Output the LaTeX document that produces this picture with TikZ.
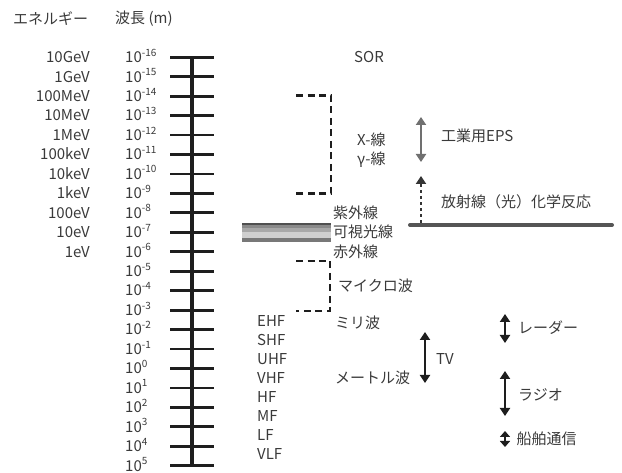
\documentclass[tikz,border=0pt]{standalone}
\usepackage{fontspec}
\setmainfont{Noto Sans CJK JP}
\usetikzlibrary{arrows.meta}
\definecolor{txt}{HTML}{3A3A3A}
\definecolor{axisc}{HTML}{1E1E1E}
\definecolor{bandA}{HTML}{505050}
\definecolor{bandB}{HTML}{8A8A8A}
\definecolor{bandC}{HTML}{A8A8A8}
\definecolor{bandD}{HTML}{CFCFCF}
\definecolor{bandE}{HTML}{787878}
\definecolor{epsc}{HTML}{707070}
\definecolor{linec}{HTML}{555555}
\newcommand\pwr[1]{10\raisebox{6.3pt}{\fontsize{10}{10}\selectfont #1}}
\begin{document}
\begin{tikzpicture}[x=1pt,y=-1pt,
  lbl/.style={font=\fontsize{15}{16}\selectfont, text=txt, inner sep=0pt},
  tickline/.style={draw=axisc, line width=2.8pt},
  axisline/.style={draw=axisc, line width=3.2pt},
  bracket/.style={draw=axisc, line width=2.5pt, dash pattern=on 7pt off 4.5pt},
  dblarrow/.style={draw=axisc, line width=2.5pt, {Triangle[width=10pt,length=8pt]}-{Triangle[width=10pt,length=8pt]}},
  smallarrow/.style={draw=axisc, line width=2.5pt, {Triangle[width=10pt,length=6pt]}-{Triangle[width=10pt,length=6pt]}},
]
\useasboundingbox (0,0) rectangle (622,473);

% headers
\node[lbl, anchor=west] (hE) at (13,19) {エネルギー};
\node[lbl, anchor=west] (hW) at (115,19) {波長 (m)};

% axis
\coordinate (axTop) at (192,57.3);
\coordinate (axBot) at (192,465.8);
\draw[axisline] (axTop) -- (axBot);
\foreach \k in {0,...,21}{
  \pgfmathsetmacro\yy{57.3+19.45*\k}
  \coordinate (t\k) at (192,\yy);
  \draw[tickline] ([xshift=-22pt]t\k) -- ([xshift=22pt]t\k);
}

% wavelength labels
\foreach \e [count=\c from 0] in {-16,-15,-14,-13,-12,-11,-10,-9,-8,-7,-6,-5,-4,-3,-2,-1,0,1,2,3,4,5}{
  \pgfmathsetmacro\yy{57.3+19.45*\c+5.3}
  \node[lbl, anchor=base west] (w\c) at (125,\yy) {\pwr{\e}};
}

% energy labels
\foreach \lab [count=\c from 0] in {10GeV,1GeV,100MeV,10MeV,1MeV,100keV,10keV,1keV,100eV,10eV,1eV}{
  \pgfmathsetmacro\yy{57.3+19.45*\c+5.3}
  \node[lbl, anchor=base east] (en\c) at (90,\yy) {\lab};
}

% brackets
\coordinate (b1a) at (296,95.5);
\coordinate (b1b) at (331,95.5);
\coordinate (b1c) at (331,193.5);
\coordinate (b1d) at (296,193.5);
\draw[bracket] (b1a) -- (b1b) -- (b1c) -- (b1d);
\coordinate (b2a) at (296,261);
\coordinate (b2b) at (330,261);
\coordinate (b2c) at (330,311);
\coordinate (b2d) at (296,311);
\draw[bracket] (b2a) -- (b2b) -- (b2c) -- (b2d);

% spectrum band
\fill[bandA] (242,223) rectangle (331,225.2);
\fill[bandB] (242,225.2) rectangle (331,227.8);
\fill[bandC] (242,227.8) rectangle (331,232.3);
\fill[bandD] (242,232.3) rectangle (331,237.7);
\fill[bandE] (242,237.7) rectangle (331,241.7);

% middle labels
\node[lbl, anchor=center] (sor) at (369,57) {SOR};
\node[lbl, anchor=west] (xray) at (357,140) {X-線};
\node[lbl, anchor=west] (gray) at (357,160) {γ-線};
\node[lbl, anchor=west] (uv) at (333,213) {紫外線};
\node[lbl, anchor=west] (vis) at (333,232) {可視光線};
\node[lbl, anchor=west] (ir) at (333,252) {赤外線};
\node[lbl, anchor=west] (micro) at (338,286) {マイクロ波};
\node[lbl, anchor=west] (milli) at (335,323) {ミリ波};
\node[lbl, anchor=west] (meter) at (335,378) {メートル波};

% band names
\foreach \lab [count=\c from 0] in {EHF,SHF,UHF,VHF,HF,MF,LF,VLF}{
  \pgfmathsetmacro\yy{320.7+19.05*\c}
  \node[lbl, anchor=west] (f\c) at (257,\yy) {\lab};
}

% right part
\coordinate (lnL) at (410,225);
\coordinate (lnR) at (612,225);
\draw[draw=linec, line width=4pt, line cap=round] (lnL) -- (lnR);
\coordinate (dotBot) at (421,223);
\coordinate (dotTop) at (421,176);
\draw[draw=axisc!90, line width=2.5pt, dash pattern=on 3pt off 3pt, -{Triangle[width=10pt,length=8pt]}] (dotBot) -- (dotTop);
\coordinate (epsTop) at (421,117);
\coordinate (epsBot) at (421,162);
\draw[draw=epsc, line width=2.5pt, {Triangle[width=10pt,length=8pt]}-{Triangle[width=10pt,length=8pt]}] (epsTop) -- (epsBot);
\node[lbl, anchor=west] (eps) at (441,136) {工業用EPS};
\node[lbl, anchor=west] (chem) at (441,202) {放射線（光）化学反応};

\coordinate (tvTop) at (425,332);
\coordinate (tvBot) at (425,383);
\draw[dblarrow] (tvTop) -- (tvBot);
\node[lbl, anchor=west] (tv) at (436,359) {TV};

\coordinate (rdTop) at (505,314);
\coordinate (rdBot) at (505,343);
\draw[dblarrow] (rdTop) -- (rdBot);
\node[lbl, anchor=west] (radar) at (518,328) {レーダー};

\coordinate (raTop) at (505,371);
\coordinate (raBot) at (505,416);
\draw[dblarrow] (raTop) -- (raBot);
\node[lbl, anchor=west] (radio) at (518,395) {ラジオ};

\coordinate (shTop) at (505,431);
\coordinate (shBot) at (505,447);
\draw[smallarrow] (shTop) -- (shBot);
\node[lbl, anchor=west] (ship) at (516.5,439) {船舶通信};
\end{tikzpicture}
\end{document}
